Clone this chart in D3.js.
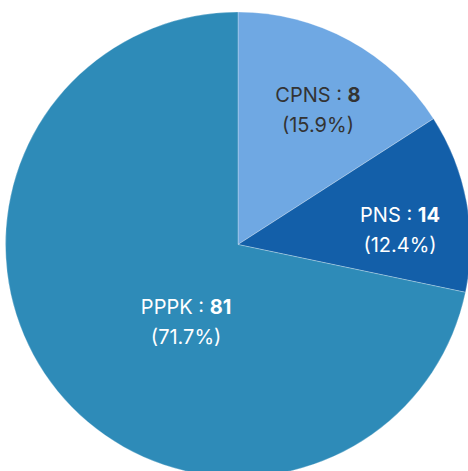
<!DOCTYPE html>
<html>
<head>
<meta charset="utf-8">
<script src="https://d3js.org/d3.v7.min.js"></script>
<style>
  body { margin:0; background:#fff; }
  text { font-family: Inter, "Open Sans", sans-serif; }
</style>
</head>
<body>
<svg id="chart" width="468" height="471"></svg>
<script>
// data
var categories = ["CPNS", "PNS", "PPPK"];
var counts = [8, 14, 81];          // numbers shown in the labels
var shares = [15.9, 12.4, 71.7];   // percent of the whole (slice size)

var colors = ["#6fa8e3", "#135fa9", "#2e8bb8"];
var textColors = ["#333333", "#ffffff", "#ffffff"];
// label placement: fraction of radius + angle tweak (degrees)
var labelPos = [{k: 0.675, da: 2}, {k: 0.70, da: 5}, {k: 0.40, da: -17}];

var svg = d3.select("#chart"),
    cx = 238, cy = 244.5, r = 232.5;

var g = svg.append("g").attr("transform", "translate(" + cx + "," + cy + ")");

var table = categories.map(function(c, i) {
  return {name: c, count: counts[i], share: shares[i], i: i};
});

var pie = d3.pie().sort(null).value(function(d) { return d.share; });
var arc = d3.arc().innerRadius(0).outerRadius(r);
var arcs = pie(table);

g.selectAll("path")
  .data(arcs)
  .enter().append("path")
    .attr("d", arc)
    .attr("fill", function(d) { return colors[d.data.i]; })
    .attr("stroke", "rgba(255,255,255,0.35)")
    .attr("stroke-width", 0.8);

var label = g.selectAll(".lbl")
  .data(arcs)
  .enter().append("text")
    .attr("class", "lbl")
    .attr("text-anchor", "middle")
    .attr("font-size", 20)
    .attr("fill", function(d) { return textColors[d.data.i]; })
    .attr("transform", function(d) {
      var p = labelPos[d.data.i];
      var a = (d.startAngle + d.endAngle) / 2 + p.da * Math.PI / 180;
      var rr = r * p.k;
      return "translate(" + (rr * Math.sin(a)) + "," + (-rr * Math.cos(a)) + ")";
    });

label.append("tspan")
    .attr("x", 0)
    .attr("y", -7.5)
    .text(function(d) { return d.data.name + " : "; })
  .append("tspan")
    .attr("font-weight", "bold")
    .text(function(d) { return d.data.count; });

label.append("tspan")
    .attr("x", 0)
    .attr("y", 22.5)
    .text(function(d) { return "(" + d.data.share.toFixed(1) + "%)"; });
</script>
</body>
</html>
